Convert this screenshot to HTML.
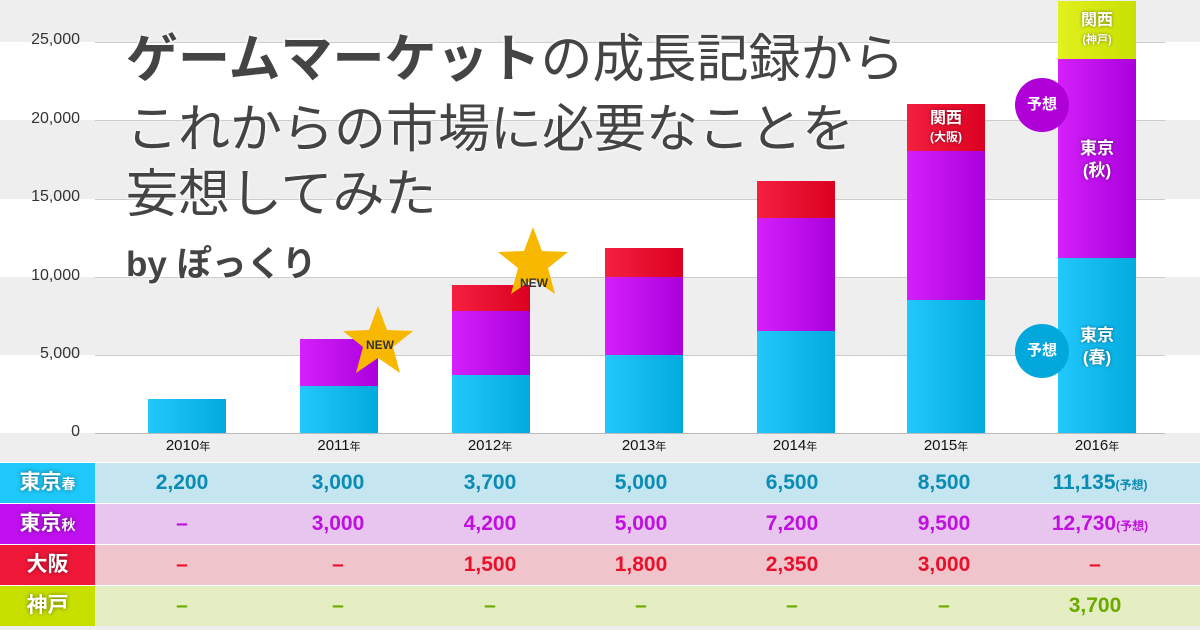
<!DOCTYPE html>
<html><head><meta charset="utf-8"><style>
*{margin:0;padding:0;box-sizing:border-box}
body{width:1200px;height:630px;overflow:hidden;background:#fff;font-family:"Liberation Sans","Noto Sans CJK JP",sans-serif;position:relative}
.a{position:absolute}
.band{position:absolute;left:0;width:1200px}
.yl{position:absolute;left:0;width:80px;text-align:right;font-size:16px;color:#333}
.gl{position:absolute;left:95px;width:1070px;height:1px;background:#ccc}
.bar{position:absolute;width:78px}
.b{background:linear-gradient(90deg,#22c8fc,#02aade)}
.p{background:linear-gradient(90deg,#d420fa,#aa00dc)}
.r{background:linear-gradient(90deg,#f42040,#dc0020)}
.g{background:linear-gradient(90deg,#e2f020,#c8e000)}
.yr{position:absolute;top:437px;width:120px;text-align:center;font-size:15px;color:#111}
.yr small{font-size:11px}
.row{position:absolute;left:0;width:1200px;height:40px}
.lab{position:absolute;left:0;top:0;width:95px;height:40px;color:#fff;font-weight:bold;font-size:21px;text-align:center;line-height:40px;text-shadow:0 0 4px rgba(0,0,0,.5)}
.lab small{font-size:14px}
.v{position:absolute;top:0;width:150px;text-align:center;line-height:40px;font-size:21px;font-weight:bold}
.v small{font-size:12px}
.bl{color:#0a8cb4}.pu{color:#c010e0}.re{color:#e8102c}.gr{color:#6aaa00}
.t{position:absolute;left:126px;font-size:52px;line-height:1;color:#444;white-space:nowrap;text-shadow:0 0 3px #fff,0 0 3px #fff}
.wt{position:absolute;color:#fff;font-weight:bold;text-align:center;text-shadow:0 0 3px rgba(0,0,0,.5);line-height:1.15}
.circ{position:absolute;border-radius:50%;color:#fff;font-weight:bold;font-size:15px;text-align:center}
</style></head><body>
<div class="band" style="top:0;height:42px;background:#eee"></div>
<div class="band" style="top:120px;height:79px;background:#eee"></div>
<div class="band" style="top:277px;height:78px;background:#eee"></div>
<div class="band" style="top:433px;height:29px;background:#eee"></div>
<div class="gl" style="top:42px"></div><div class="gl" style="top:120px"></div><div class="gl" style="top:199px"></div><div class="gl" style="top:277px"></div><div class="gl" style="top:355px"></div><div class="gl" style="top:433px;background:#bbb"></div>
<div class="yl" style="top:31px">25,000</div><div class="yl" style="top:110px">20,000</div><div class="yl" style="top:188px">15,000</div><div class="yl" style="top:267px">10,000</div><div class="yl" style="top:345px">5,000</div><div class="yl" style="top:423px">0</div>

<div class="bar b" style="left:148px;top:399px;height:34px"></div>
<div class="bar b" style="left:300px;top:386px;height:47px"></div><div class="bar p" style="left:300px;top:339px;height:47px"></div>
<div class="bar b" style="left:452px;top:375px;height:58px"></div><div class="bar p" style="left:452px;top:311px;height:64px"></div><div class="bar r" style="left:452px;top:285px;height:26px"></div>
<div class="bar b" style="left:605px;top:355px;height:78px"></div><div class="bar p" style="left:605px;top:277px;height:78px"></div><div class="bar r" style="left:605px;top:248px;height:29px"></div>
<div class="bar b" style="left:757px;top:331px;height:102px"></div><div class="bar p" style="left:757px;top:218px;height:113px"></div><div class="bar r" style="left:757px;top:181px;height:37px"></div>
<div class="bar b" style="left:907px;top:300px;height:133px"></div><div class="bar p" style="left:907px;top:151px;height:149px"></div><div class="bar r" style="left:907px;top:104px;height:47px"></div>
<div class="bar b" style="left:1058px;top:258px;height:175px"></div><div class="bar p" style="left:1058px;top:59px;height:199px"></div><div class="bar g" style="left:1058px;top:1px;height:58px"></div>

<div class="wt" style="left:907px;top:110px;width:78px;font-size:16px">関西<br><span style="font-size:12px">(大阪)</span></div>
<div class="wt" style="left:1058px;top:12px;width:78px;font-size:16px">関西<br><span style="font-size:11px">(神戸)</span></div>
<div class="wt" style="left:1058px;top:138px;width:78px;font-size:17px;line-height:1.3">東京<br>(秋)</div>
<div class="wt" style="left:1058px;top:325px;width:78px;font-size:17px;line-height:1.3">東京<br>(春)</div>
<div class="circ" style="left:1015px;top:78px;width:54px;height:54px;line-height:54px;background:#b000d8">予想</div>
<div class="circ" style="left:1015px;top:324px;width:54px;height:54px;line-height:54px;background:#02a8dc">予想</div>

<svg class="a" style="left:0;top:0" width="1200" height="430">
<polygon points="378,306 387,330 413,331 393,347 400,373 378,358 356,373 363,347 343,331 369,330" fill="#f8b800"/>
<polygon points="533,227 542,251 568,252 548,268 555,294 533,279 511,294 518,268 498,252 524,251" fill="#f8b800"/>
<text x="380" y="349" font-size="12" font-weight="bold" text-anchor="middle" fill="#333" font-family="Liberation Sans">NEW</text>
<text x="534" y="287" font-size="12" font-weight="bold" text-anchor="middle" fill="#333" font-family="Liberation Sans">NEW</text>
</svg>

<div class="t" style="top:34px"><b>ゲームマーケット</b>の成長記録から</div>
<div class="t" style="top:104px">これからの市場に必要なことを</div>
<div class="t" style="top:169px">妄想してみた</div>
<div class="t" style="top:247px;font-size:35px;font-weight:bold">by ぽっくり</div>

<div class="yr" style="left:128px">2010<small>年</small></div>
<div class="yr" style="left:279px">2011<small>年</small></div>
<div class="yr" style="left:430px">2012<small>年</small></div>
<div class="yr" style="left:584px">2013<small>年</small></div>
<div class="yr" style="left:735px">2014<small>年</small></div>
<div class="yr" style="left:886px">2015<small>年</small></div>
<div class="yr" style="left:1037px">2016<small>年</small></div>

<div class="row" style="top:463px;background:#c5e5f0"><div class="lab" style="background:#1ec8fa">東京<small>春</small></div>
<div class="v bl" style="left:107px">2,200</div><div class="v bl" style="left:263px">3,000</div><div class="v bl" style="left:415px">3,700</div><div class="v bl" style="left:566px">5,000</div><div class="v bl" style="left:717px">6,500</div><div class="v bl" style="left:869px">8,500</div><div class="v bl" style="left:1020px;width:160px">11,135<small>(予想)</small></div></div>
<div class="row" style="top:504px;background:#e8c5ee"><div class="lab" style="background:#c010f0">東京<small>秋</small></div>
<div class="v pu" style="left:107px">–</div><div class="v pu" style="left:263px">3,000</div><div class="v pu" style="left:415px">4,200</div><div class="v pu" style="left:566px">5,000</div><div class="v pu" style="left:717px">7,200</div><div class="v pu" style="left:869px">9,500</div><div class="v pu" style="left:1020px;width:160px">12,730<small>(予想)</small></div></div>
<div class="row" style="top:545px;background:#efc5cb"><div class="lab" style="background:#f01838">大阪</div>
<div class="v re" style="left:107px">–</div><div class="v re" style="left:263px">–</div><div class="v re" style="left:415px">1,500</div><div class="v re" style="left:566px">1,800</div><div class="v re" style="left:717px">2,350</div><div class="v re" style="left:869px">3,000</div><div class="v re" style="left:1020px">–</div></div>
<div class="row" style="top:586px;background:#e5edc2"><div class="lab" style="background:#c8e000">神戸</div>
<div class="v gr" style="left:107px">–</div><div class="v gr" style="left:263px">–</div><div class="v gr" style="left:415px">–</div><div class="v gr" style="left:566px">–</div><div class="v gr" style="left:717px">–</div><div class="v gr" style="left:869px">–</div><div class="v gr" style="left:1020px">3,700</div></div>
<div class="band" style="top:626px;height:4px;background:#eee"></div>
</body></html>
